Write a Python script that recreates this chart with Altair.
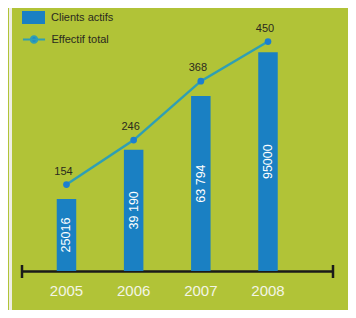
import altair as alt
import pandas as pd

years = ["2005", "2006", "2007", "2008"]
clients = [25016, 39190, 63794, 95000]
client_labels = ["25016", "39 190", "63 794", "95000"]
effectif = [154, 246, 368, 450]
series_bar = ["Clients actifs"] * 4
series_line = ["Effectif total"] * 4

df = pd.DataFrame({"year": years, "clients": clients, "clabel": client_labels,
                   "effectif": effectif, "sbar": series_bar, "sline": series_line})

GREEN = "#b1c337"
BLUE = "#1a80c3"
TEAL = "#2f9fb4"
DOT = "#1b7fd0"
FONT = "Liberation Sans"
W, H = 311, 257
BAR_MIN = 13000

xenc = alt.X("year:N", title=None,
             scale=alt.Scale(paddingInner=0.71, paddingOuter=0.67, align=0.386),
             axis=alt.Axis(labelAngle=0, ticks=False, domainColor="#1a1a1a", domainWidth=2.5,
                           labelColor="#f3f5e6", labelFontSize=15, labelFont=FONT,
                           labelPadding=12, grid=False))

ybar = alt.Scale(type="log", domain=[BAR_MIN, 134600], nice=False)
yline = alt.Scale(domain=[-25, 507], nice=False, zero=False)

base = alt.Chart(df)

bars = base.mark_bar(width=19.5).encode(
    x=xenc,
    y=alt.Y("clients:Q", scale=ybar, axis=None),
    y2=alt.Y2(datum=BAR_MIN),
    color=alt.Color("sbar:N",
                    scale=alt.Scale(domain=["Clients actifs"], range=[BLUE]),
                    legend=alt.Legend(title=None, orient="none", legendX=4, legendY=-4,
                                      symbolType="M-1.77,-1H1.77V1H-1.77Z", symbolSize=169,
                                      symbolOpacity=1, labelOffset=10, labelFontSize=11,
                                      labelFont=FONT, labelColor="#2a2a20", padding=0)),
)

bar_text = base.transform_calculate(mid=f"sqrt({BAR_MIN}*datum.clients)").mark_text(
    angle=270, color="white", fontSize=12.5, font=FONT, align="center", baseline="middle"
).encode(
    x=alt.X("year:N"),
    y=alt.Y("mid:Q", scale=ybar, axis=None),
    text="clabel:N",
)

line = base.mark_line(strokeWidth=2.5).encode(
    x=alt.X("year:N"),
    y=alt.Y("effectif:Q", scale=yline, axis=None),
    stroke=alt.Stroke("sline:N",
                      scale=alt.Scale(domain=["Effectif total"], range=[TEAL]),
                      legend=alt.Legend(title=None, orient="none", legendX=4.5, legendY=18,
                                        symbolType="M-1.7,0H1.7M-0.5,0A0.5,0.5,0,1,1,0.5,0A0.5,0.5,0,1,1,-0.5,0Z",
                                        symbolSize=169, symbolStrokeWidth=2, symbolFillColor=DOT,
                                        labelOffset=10, labelFontSize=11, labelFont=FONT,
                                        labelColor="#2a2a20", padding=0)),
)

points = base.mark_circle(size=45, color=DOT, opacity=1).encode(
    x=alt.X("year:N"),
    y=alt.Y("effectif:Q", scale=yline, axis=None),
)

point_text = base.mark_text(fontSize=11, font=FONT, color="#2a2a1e", baseline="bottom", dy=-8, dx=-3).encode(
    x=alt.X("year:N"),
    y=alt.Y("effectif:Q", scale=yline, axis=None),
    text="effectif:Q",
)

deco = alt.Data(values=[{"k": 0}])
caps = alt.layer(
    alt.Chart(deco).mark_rule(color="#1a1a1a", strokeWidth=2.5).encode(
        x=alt.value(0), y=alt.value(H - 6), y2=alt.value(H + 7)),
    alt.Chart(deco).mark_rule(color="#1a1a1a", strokeWidth=2.5).encode(
        x=alt.value(W), y=alt.value(H - 6), y2=alt.value(H + 7)),
    alt.Chart(deco).mark_rule(color="#eeeee4", strokeWidth=3).encode(
        x=alt.value(-11.5), y=alt.value(-10), y2=alt.value(300)),
)

chart = alt.layer(bars, bar_text, line, points, point_text, caps).resolve_scale(
    y="independent"
).properties(
    width=W, height=H,
    autosize=alt.AutoSizeParams(type="none"),
    padding={"left": 14, "top": 6, "right": 15, "bottom": 39},
    background=GREEN,
).configure_view(stroke=None, fill=GREEN)

chart.save("out.html", embed_options={"renderer": "svg", "actions": False})
